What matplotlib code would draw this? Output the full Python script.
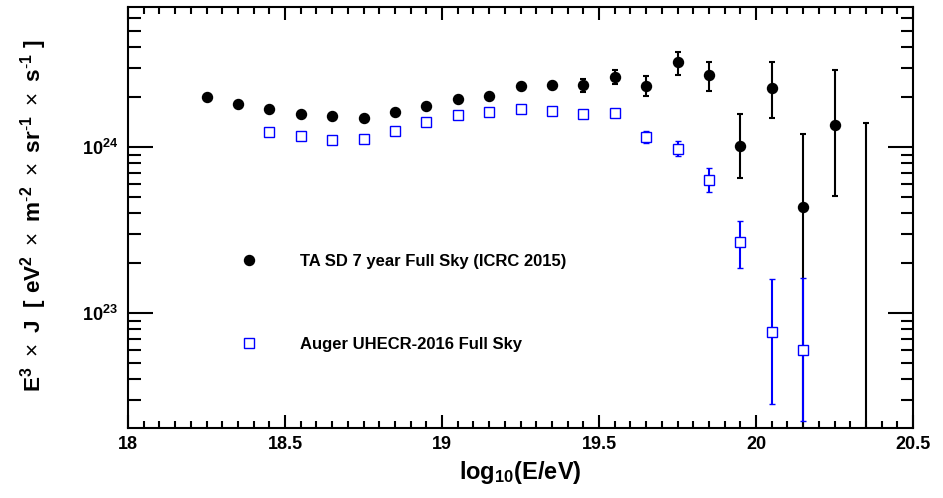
import numpy as np
import matplotlib
matplotlib.use("Agg")
import matplotlib.pyplot as plt
from matplotlib.ticker import MultipleLocator, LogLocator, FuncFormatter, NullFormatter
from matplotlib.lines import Line2D

plt.rcParams['font.family'] = ['Liberation Sans', 'DejaVu Sans']
plt.rcParams['font.weight'] = 'bold'
plt.rcParams['mathtext.fontset'] = 'custom'
plt.rcParams['mathtext.rm'] = 'Liberation Sans:weight=normal'
plt.rcParams['mathtext.bf'] = 'Liberation Sans:bold'
plt.rcParams['mathtext.it'] = 'Liberation Sans:italic'

# ---- data (E^3 J in units of 1e24 eV^2 m^-2 sr^-1 s^-1) ----
ta_logE = [18.25, 18.35, 18.45, 18.55, 18.65, 18.75, 18.85, 18.95, 19.05, 19.15, 19.25,
           19.35, 19.45, 19.55, 19.65, 19.75, 19.85, 19.95, 20.05, 20.15, 20.25, 20.35]
ta_val = [2.00, 1.82, 1.69, 1.59, 1.54, 1.49, 1.62, 1.77, 1.95, 2.02, 2.33,
          2.36, 2.36, 2.65, 2.33, 3.24, 2.72, 1.02, 2.26, 0.437, 1.36, 0.001]
ta_lo = [1.96, 1.78, 1.65, 1.55, 1.50, 1.45, 1.58, 1.72, 1.89, 1.95, 2.24,
         2.25, 2.15, 2.40, 2.02, 2.71, 2.18, 0.647, 1.50, 0.001, 0.509, 0.001]
ta_hi = [2.04, 1.86, 1.73, 1.63, 1.58, 1.53, 1.66, 1.82, 2.01, 2.09, 2.42,
         2.47, 2.57, 2.91, 2.69, 3.72, 3.24, 1.57, 3.23, 1.20, 2.91, 1.40]

au_logE = [18.45, 18.55, 18.65, 18.75, 18.85, 18.95, 19.05, 19.15, 19.25,
           19.35, 19.45, 19.55, 19.65, 19.75, 19.85, 19.95, 20.05, 20.15]
au_val = [1.225, 1.16, 1.106, 1.117, 1.24, 1.41, 1.55, 1.62, 1.69,
          1.64, 1.57, 1.60, 1.15, 0.973, 0.633, 0.267, 0.0769, 0.0601]
au_lo = [1.21, 1.145, 1.09, 1.10, 1.22, 1.39, 1.53, 1.60, 1.665,
         1.61, 1.54, 1.56, 1.06, 0.879, 0.533, 0.188, 0.0283, 0.0224]
au_hi = [1.24, 1.175, 1.12, 1.135, 1.26, 1.43, 1.57, 1.64, 1.715,
         1.67, 1.60, 1.64, 1.25, 1.08, 0.745, 0.358, 0.161, 0.163]

ta_label = "TA SD 7 year Full Sky (ICRC 2015)"
au_label = "Auger UHECR-2016 Full Sky"
scale = 1e24

ta_y = np.array(ta_val) * scale
ta_err = [ta_y - np.array(ta_lo) * scale, np.array(ta_hi) * scale - ta_y]
au_y = np.array(au_val) * scale
au_err = [au_y - np.array(au_lo) * scale, np.array(au_hi) * scale - au_y]

fig = plt.figure(figsize=(9.43, 4.98), dpi=100)
ax = fig.add_axes([128/943, 1-428/498, (913-128)/943, (428-7)/498])

ax.errorbar(ta_logE, ta_y, yerr=ta_err, fmt='o', color='black', ms=7.2,
            elinewidth=1.5, capsize=2.5, capthick=1.5, zorder=3)
ax.errorbar(au_logE, au_y, yerr=au_err, fmt='s', color='#0000ff', mfc='white',
            mec='#0000ff', mew=1.0, ms=7.5, elinewidth=1.5, capsize=2.5,
            capthick=1.5, zorder=4)

ax.set_yscale('log')
ax.set_xlim(18, 20.5)
ax.set_ylim(2.03e22, 6.97e24)

ax.xaxis.set_major_locator(MultipleLocator(0.5))
ax.xaxis.set_minor_locator(MultipleLocator(0.05))
ax.xaxis.set_major_formatter(FuncFormatter(lambda v, p: ('%g' % v)))
ax.yaxis.set_major_locator(LogLocator(base=10, numticks=10))
ax.yaxis.set_minor_locator(LogLocator(base=10, subs=np.arange(2, 10), numticks=20))
ax.yaxis.set_major_formatter(FuncFormatter(lambda v, p: r'$\mathbf{10^{%d}}$' % round(np.log10(v))))
ax.yaxis.set_minor_formatter(NullFormatter())

ax.tick_params(axis='both', which='both', direction='in', top=True, right=True, width=1.5, colors='black')
ax.tick_params(axis='x', which='major', length=9.4, labelsize=13, pad=6)
ax.tick_params(axis='x', which='minor', length=5)
ax.tick_params(axis='y', which='major', length=18, labelsize=13, pad=7)
ax.tick_params(axis='y', which='minor', length=9)
for s in ax.spines.values():
    s.set_linewidth(1.5)

ax.set_xlabel(r'$\mathbf{log_{10}(E/eV)}$', fontsize=17, labelpad=4)
ylab = (r'$\mathbf{E^{3}}\ \times\ \mathbf{J}\ \ \mathbf{[\ eV^{2}}\ \times\ \mathbf{m^{\text{-}2}}'
        r'\ \times\ \mathbf{sr^{\text{-}1}}\ \times\ \mathbf{s^{\text{-}1}\ ]}$')
fig.text(34/943, 1-216/498, ylab, rotation=90, fontsize=16.2, ha='center', va='center')

handles = [Line2D([], [], ls='none', marker='o', color='black', ms=7.2),
           Line2D([], [], ls='none', marker='s', color='#0000ff', mfc='white', mew=1.0, ms=7.5)]
ax.legend(handles, [ta_label, au_label], loc='upper left',
          bbox_to_anchor=(241/943, 1-254/498), bbox_transform=fig.transFigure,
          frameon=False, fontsize=12, handlelength=1.0, handletextpad=2.55,
          labelspacing=4.08, borderpad=0, borderaxespad=0)

fig.savefig('out.png', dpi=100)
